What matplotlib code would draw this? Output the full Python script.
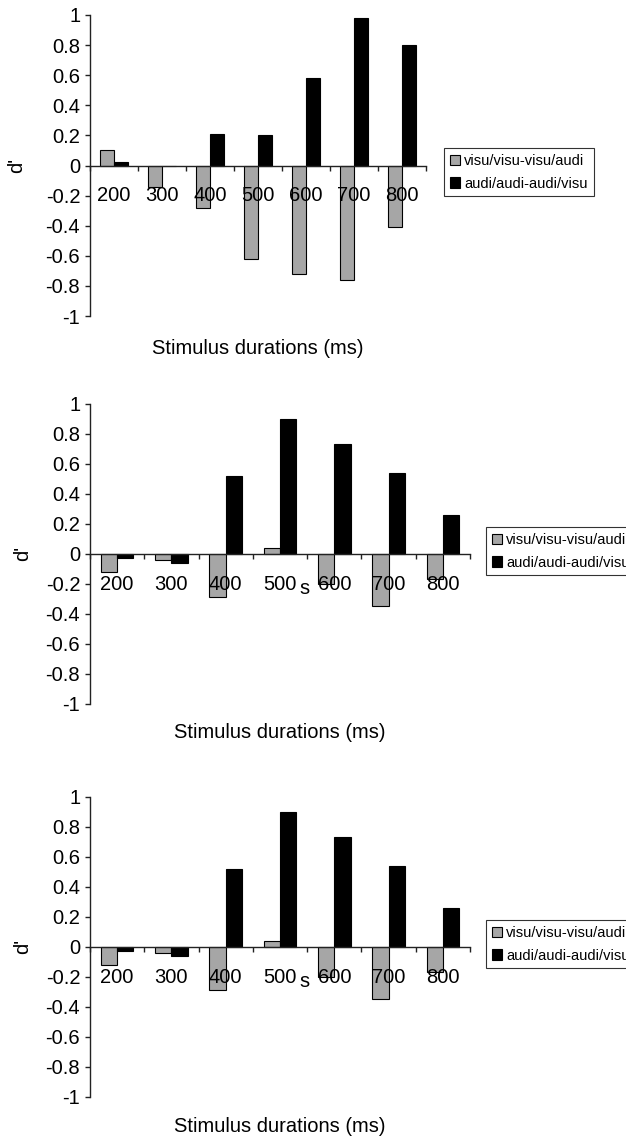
import matplotlib
matplotlib.use("Agg")
import matplotlib.pyplot as plt
from matplotlib.patches import Patch

# d' per stimulus duration
durations = ["200", "300", "400", "500", "600", "700", "800"]

top_visu = [0.10, -0.14, -0.28, -0.62, -0.72, -0.76, -0.41]
top_audi = [0.02, 0.0, 0.21, 0.20, 0.58, 0.98, 0.80]

mid_visu = [-0.12, -0.04, -0.29, 0.04, -0.20, -0.35, -0.17]
mid_audi = [-0.03, -0.06, 0.52, 0.90, 0.73, 0.54, 0.26]

bot_visu = [-0.12, -0.04, -0.29, 0.04, -0.20, -0.35, -0.17]
bot_audi = [-0.03, -0.06, 0.52, 0.90, 0.73, 0.54, 0.26]

legend_labels = ["visu/visu-visu/audi", "audi/audi-audi/visu"]
yticks = [1, 0.8, 0.6, 0.4, 0.2, 0, -0.2, -0.4, -0.6, -0.8, -1]
ytick_labels = ["1", "0.8", "0.6", "0.4", "0.2", "0", "-0.2", "-0.4", "-0.6", "-0.8", "-1"]

plt.rcParams["font.family"] = ["Liberation Sans", "DejaVu Sans"]
plt.rcParams["axes.unicode_minus"] = False

W, H = 626, 1138
fig = plt.figure(figsize=(W / 100, H / 100), dpi=100)

GRAY = "#a6a6a6"
FS = 14.5


def px_axes(x0, x1, y0, y1):
    # pixel box -> figure fraction
    return fig.add_axes([x0 / W, 1 - y1 / H, (x1 - x0) / W, (y1 - y0) / H])


def panel(ax, visu, audi, legend_box, ylab_x, xlab_off, stray=False):
    n = len(durations)
    idx = list(range(n))
    bw = 0.3
    ax.bar([i - bw / 2 for i in idx], visu, width=bw, color=GRAY,
           edgecolor="black", linewidth=0.8, zorder=1)
    ax.bar([i + bw / 2 for i in idx], audi, width=bw, color="black",
           edgecolor="black", linewidth=0.8, zorder=1)
    ax.set_xlim(-0.5, n - 0.5)
    ax.set_ylim(-1, 1)

    for s in ["top", "right"]:
        ax.spines[s].set_visible(False)
    ax.spines["bottom"].set_position(("data", 0))
    ax.spines["bottom"].set_color("#222222")
    ax.spines["left"].set_color("#222222")
    ax.spines["bottom"].set_linewidth(1.0)
    ax.spines["left"].set_linewidth(1.0)

    ax.set_yticks(yticks)
    ax.set_yticklabels(ytick_labels)
    ax.tick_params(axis="y", direction="out", length=3.6, width=1.0,
                   color="#222222", pad=3.5, labelsize=FS)

    # labels in the middle of each category, tick marks on the boundaries
    ax.set_xticks(idx)
    ax.set_xticklabels(durations)
    ax.set_xticks([i - 0.5 for i in range(n + 1)], minor=True)
    ax.tick_params(axis="x", which="major", length=0, pad=15, labelsize=FS)
    ax.tick_params(axis="x", which="minor", direction="out", length=3.6,
                   width=1.0, color="#222222")

    ax.set_ylabel("d'", fontsize=FS, va="center")
    ax.yaxis.set_label_coords(ylab_x, 0.5)
    ax.set_xlabel("Stimulus durations (ms)", fontsize=14.5, va="center")
    ax.xaxis.set_label_coords(0.5, xlab_off)

    if stray:
        ax.text(3.46, -0.235, "s", fontsize=FS, ha="center", va="center")

    handles = [Patch(facecolor=GRAY, edgecolor="black", linewidth=0.8),
               Patch(facecolor="black", edgecolor="black", linewidth=0.8)]
    x0, y0, x1, y1 = legend_box
    leg = fig.legend(handles, legend_labels, loc="upper left",
                     bbox_to_anchor=(x0 / W, 1 - y0 / H), fontsize=10.5,
                     frameon=True, fancybox=False, borderpad=0.4,
                     handlelength=0.7, handleheight=0.7, handletextpad=0.3,
                     labelspacing=0.6, borderaxespad=0)
    leg.get_frame().set_edgecolor("black")
    leg.get_frame().set_linewidth(0.8)


ax1 = px_axes(90, 426, 15, 316)
panel(ax1, top_visu, top_audi, (444, 148, 592, 201), -73 / 336, -32 / 301)

ax2 = px_axes(90, 470, 403.7, 703.7)
panel(ax2, mid_visu, mid_audi, (486, 527, 634, 580), -67 / 380, -29 / 300, stray=True)

ax3 = px_axes(90, 470, 796.7, 1096.7)
panel(ax3, bot_visu, bot_audi, (486, 920, 634, 973), -67 / 380, -30 / 300, stray=True)

fig.savefig("out.png", dpi=100)
